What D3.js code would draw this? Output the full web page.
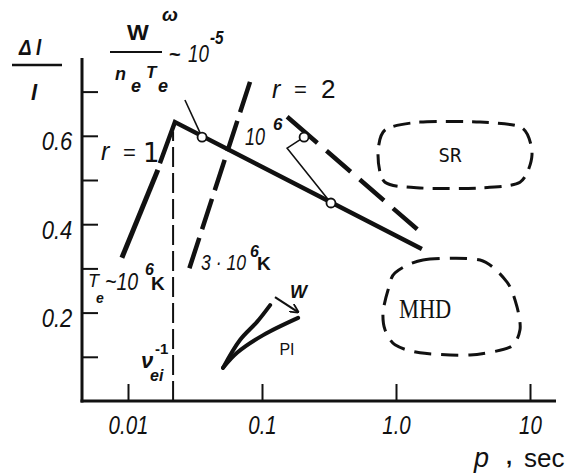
<!DOCTYPE html>
<html><head><meta charset="utf-8">
<script src="https://cdn.jsdelivr.net/npm/d3@7"></script>
<style>body{margin:0;background:#fff} svg{display:block}</style>
</head><body><svg id="c" width="579" height="473"></svg>
<script>
// ---- data (p in sec, Δl/l) ----
const xTicks = [0.01, 0.1, 1, 10];
const xTickLabels = ["0.01", "0.1", "1.0", "10"];
const yTicks = [0.1, 0.2, 0.3, 0.4, 0.5, 0.6, 0.7];
const yTickLabels = ["", "0.2", "", "0.4", "", "0.6", ""];
const r1Lower = [[0.0090, 0.324], [0.0167, 0.523]];
const mainLine = [[0.0173, 0.538], [0.0224, 0.631], [1.56, 0.344]];
const r2Dashed = [[0.0814, 0.722], [0.0280, 0.290]];
const rightDashed = [[0.154, 0.643], [1.46, 0.387]];
const nuLine = [[0.0217, 0], [0.0217, 0.61]];
const thin1 = [[0.0266, 0.681], [0.0357, 0.597]];
const thin2 = [[0.206, 0.597], [0.154, 0.572], [0.327, 0.448]];
const circlePts = [[0.0357, 0.597], [0.206, 0.597], [0.327, 0.448]];
const piUpper = [[0.0512, 0.075], [0.0685, 0.138], [0.0918, 0.179], [0.115, 0.217]];
const piLower = [[0.0512, 0.075], [0.0651, 0.109], [0.102, 0.149], [0.186, 0.188]];
const wArrow = [[0.125, 0.235], [0.186, 0.201]];
const srRegion = [[0.828,0.613],[1.51,0.631],[4.24,0.631],[8.72,0.618],[10.35,0.557],[8.42,0.495],[4.24,0.482],[1.51,0.482],[0.828,0.495],[0.734,0.557]];
const mhdRegion = [[0.983,0.290],[1.59,0.319],[4.24,0.319],[6.74,0.269],[8.00,0.213],[8.42,0.161],[7.09,0.122],[3.57,0.104],[1.51,0.109],[0.983,0.127],[0.828,0.161],[0.800,0.201],[0.872,0.251]];

const svg = d3.select("#c");
const x = d3.scaleLog().domain([0.01, 10]).range([128, 530]);
const y = d3.scaleLinear().domain([0, 0.7]).range([401, 91.6]);
const line = d3.line().x(d => x(d[0])).y(d => y(d[1]));
const ink = "#111";
const NARROW = "'Liberation Sans', Arial, sans-serif";

// frame
svg.append("line").attr("x1", 82).attr("x2", 82).attr("y1", 58).attr("y2", 402.5)
  .attr("stroke", ink).attr("stroke-width", 3);
svg.append("line").attr("x1", 80.5).attr("x2", 556).attr("y1", 401).attr("y2", 401)
  .attr("stroke", ink).attr("stroke-width", 3);

// axes
const xa = svg.append("g").attr("transform", "translate(0,401)")
  .call(d3.axisBottom(x).tickValues(xTicks).tickSizeInner(-17).tickSizeOuter(0).tickPadding(15)
    .tickFormat((d, i) => xTickLabels[i]));
xa.select(".domain").remove();
xa.selectAll(".tick line").attr("stroke", ink).attr("stroke-width", 2);
xa.selectAll(".tick text").attr("font-family", NARROW).attr("font-style", "italic")
  .style("font-size", "25px").attr("fill", ink).attr("transform", "scale(0.82,1)");

const ya = svg.append("g").attr("transform", "translate(82,0)")
  .call(d3.axisLeft(y).tickValues(yTicks).tickSizeInner(-16).tickSizeOuter(0).tickPadding(12)
    .tickFormat((d, i) => yTickLabels[i]));
ya.select(".domain").remove();
ya.selectAll(".tick line").attr("stroke", ink).attr("stroke-width", 2);
ya.selectAll(".tick text").attr("font-family", NARROW).attr("font-style", "italic")
  .style("font-size", "25px").attr("fill", ink).attr("dy", "0.56em").attr("x", -11)
  .attr("transform", "scale(0.88,1)");

// nu_ei^-1 dashed vertical
svg.append("path").attr("d", line(nuLine)).attr("fill", "none").attr("stroke", ink)
  .attr("stroke-width", 2).attr("stroke-dasharray", "20 6");

// regions
const closed = d3.line().x(d => x(d[0])).y(d => y(d[1])).curve(d3.curveCardinalClosed.tension(0.2));
svg.append("path").attr("d", closed(srRegion)).attr("fill", "none").attr("stroke", ink)
  .attr("stroke-width", 3).attr("stroke-dasharray", "17 9");
svg.append("path").attr("d", closed(mhdRegion)).attr("fill", "none").attr("stroke", ink)
  .attr("stroke-width", 3).attr("stroke-dasharray", "17 10");

// r=1 and main solid lines
svg.append("path").attr("d", line(r1Lower)).attr("fill", "none").attr("stroke", ink)
  .attr("stroke-width", 5);
svg.append("path").attr("d", line(mainLine)).attr("fill", "none").attr("stroke", ink)
  .attr("stroke-width", 4.5).attr("stroke-linejoin", "miter");

// r=2 dashed line
svg.append("path").attr("d", line(r2Dashed)).attr("fill", "none").attr("stroke", ink)
  .attr("stroke-width", 4.5).attr("stroke-dasharray", "32 9");
// right dashed line (solid start)
svg.append("path").attr("d", line(rightDashed)).attr("fill", "none").attr("stroke", ink)
  .attr("stroke-width", 4.5).attr("stroke-dasharray", "40 12 32 12 32 12 32 12");

// thin lines
[thin1, thin2].forEach(t => svg.append("path").attr("d", line(t)).attr("fill", "none")
  .attr("stroke", ink).attr("stroke-width", 1.6));

// circles
svg.selectAll("circle.pt").data(circlePts).enter().append("circle")
  .attr("cx", d => x(d[0])).attr("cy", d => y(d[1])).attr("r", 4.5)
  .attr("fill", "#fff").attr("stroke", ink).attr("stroke-width", 1.8);

// PI crescent
const smooth = d3.line().x(d => x(d[0])).y(d => y(d[1])).curve(d3.curveCatmullRom);
[piUpper, piLower].forEach(c => svg.append("path").attr("d", smooth(c)).attr("fill", "none")
  .attr("stroke", ink).attr("stroke-width", 4).attr("stroke-linecap", "round"));

// W arrow
svg.append("defs").append("marker").attr("id", "ah").attr("viewBox", "0 0 10 10")
  .attr("refX", 9).attr("refY", 5).attr("markerWidth", 9).attr("markerHeight", 9)
  .attr("orient", "auto").attr("markerUnits", "userSpaceOnUse")
  .append("path").attr("d", "M0,0 L10,5 L0,10").attr("fill", "none").attr("stroke", ink).attr("stroke-width", 2);
svg.append("path").attr("d", line(wArrow)).attr("fill", "none").attr("stroke", ink)
  .attr("stroke-width", 2.2).attr("marker-end", "url(#ah)");

// ---- text helpers ----
function txt(px, py, s, o = {}) {
  const t = svg.append("text").text(s)
    .attr("transform", `translate(${px},${py}) scale(${o.sx || 1},1)`)
    .attr("font-family", o.ff || NARROW).attr("font-size", o.fs || 20)
    .attr("font-style", o.it ? "italic" : "normal").attr("font-weight", o.b ? "bold" : "normal")
    .attr("fill", ink).attr("text-anchor", o.a || "start");
  return t;
}

// Δl / l
txt(19, 55, "Δ l", {it: true, fs: 22, sx: 0.85, b: true});
svg.append("line").attr("x1", 12).attr("x2", 62).attr("y1", 65).attr("y2", 65).attr("stroke", ink).attr("stroke-width", 2.5);
txt(31, 100, "l", {it: true, fs: 22, b: true});

// W^ω / (n_e T_e) ~ 10^-5
txt(127, 40, "W", {fs: 22, b: true, sx: 1.05});
txt(162, 21, "ω", {fs: 19, it: true, b: true});
svg.append("line").attr("x1", 110).attr("x2", 162).attr("y1", 52).attr("y2", 52).attr("stroke", ink).attr("stroke-width", 2);
txt(115, 80, "n", {fs: 18, it: true, b: true});
txt(131, 92, "e", {fs: 18, it: true, b: true});
txt(146, 78, "T", {fs: 17, it: true, b: true});
txt(158, 92, "e", {fs: 18, it: true, b: true});
txt(169, 61, "~", {fs: 20, b: true});
txt(188, 62, "10", {fs: 24, it: true, sx: 0.78});
txt(210, 44, "-5", {fs: 18, it: true, b: true, sx: 0.85});

// r = 2 / r = 1
txt(272, 98, "r", {fs: 25, it: true});
txt(294, 97, "=", {fs: 22});
txt(321, 98, "2", {fs: 26});
txt(101, 160, "r", {fs: 25, it: true});
txt(123, 160, "=", {fs: 22});
txt(143, 162, "1", {fs: 26, ff: "'DejaVu Sans', sans-serif"});

// T_e ~ 10^6 K
txt(88, 287, "T", {fs: 18, it: true});
txt(96, 303, "e", {fs: 14, it: true, b: true});
txt(105, 290, "~10", {fs: 23, it: true, sx: 0.85});
txt(145, 275, "6", {fs: 16, it: true, b: true});
txt(151, 290, "K", {fs: 19, b: true});

// 3·10^6 K
txt(201, 270, "3 · 10", {fs: 22, it: true, sx: 0.8});
txt(250, 257, "6", {fs: 16, it: true, b: true});
txt(257, 270, "K", {fs: 19, b: true});

// 10^6
txt(245, 145, "10", {fs: 24, it: true, sx: 0.75});
txt(273, 130, "6", {fs: 17, it: true, b: true});

// nu_ei^-1
txt(141, 368, "ν", {fs: 22, it: true, b: true});
txt(155, 354, "-1", {fs: 15, b: true});
txt(150, 381, "ei", {fs: 16, it: true, b: true});

// W, PI, SR, MHD
txt(290, 298, "W", {fs: 18, it: true, b: true});
txt(287, 355, "PI", {fs: 16, a: "middle"});
txt(450, 162, "SR", {fs: 19, ff: "'DejaVu Sans Mono', monospace", a: "middle"});
txt(399, 318, "MHD", {fs: 28, ff: "'Liberation Serif', 'Times New Roman', serif", sx: 0.8});

// p , sec
txt(474, 467, "p", {fs: 27, it: true});
txt(506, 464, ",", {fs: 22, b: true});
txt(524, 467, "sec", {fs: 26});
</script>
</body></html>
